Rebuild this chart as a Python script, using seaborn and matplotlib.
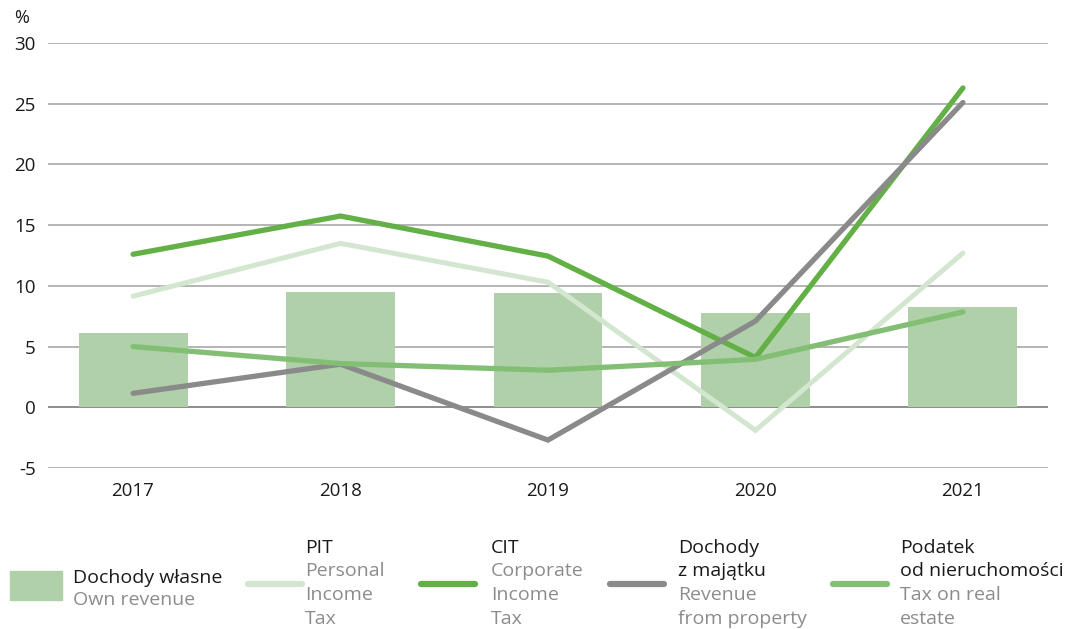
import numpy as np
import pandas as pd
import seaborn as sns
import matplotlib.pyplot as plt
from matplotlib.patches import Rectangle
from matplotlib.lines import Line2D

# data
years = ["2017", "2018", "2019", "2020", "2021"]
own_revenue = [6.1, 9.5, 9.4, 7.75, 8.3]
pit = [9.15, 13.5, 10.3, -1.9, 12.7]
cit = [12.6, 15.75, 12.45, 4.1, 26.3]
property_rev = [1.15, 3.55, -2.7, 7.1, 25.1]
real_estate = [5.0, 3.6, 3.05, 3.95, 7.85]

yticks = [-5, 0, 5, 10, 15, 20, 25, 30]

c_bar = "#afd0a9"
c_pit = "#d3e6d0"
c_cit = "#62b046"
c_prop = "#8a8a8a"
c_re = "#82bf74"
c_sub = "#8c8c8c"

sns.set_theme(style="white")
plt.rcParams["font.family"] = ["Open Sans", "DejaVu Sans"]

fig = plt.figure(figsize=(10.65, 6.29), dpi=100)
ax = fig.add_axes([48 / 1065, 1 - 468 / 629, 1000 / 1065, 425 / 629])

df = pd.DataFrame({"year": years, "own": own_revenue})
sns.barplot(data=df, x="year", y="own", color=c_bar, saturation=1,
            width=0.525, linewidth=0, ax=ax, zorder=2)

pos = np.arange(len(years))
series = [
    (pit, c_pit, 3.6),
    (cit, c_cit, 3.8),
    (property_rev, c_prop, 3.8),
    (real_estate, c_re, 3.8),
]
for vals, col, lw in series:
    sns.lineplot(x=pos, y=vals, color=col, linewidth=lw, ax=ax, zorder=3,
                 solid_capstyle="round", solid_joinstyle="miter")

ax.set_ylim(-5, 30)
ax.set_xlim(-0.41, 4.41)
ax.set_yticks(yticks)
ax.set_yticklabels([str(t) for t in yticks])
for t in yticks:
    ax.axhline(t, color="#a0a0a0" if t != 0 else "#6e6e6e", linewidth=1.1, zorder=1)
ax.set_xlabel("")
ax.set_ylabel("")
for s in ax.spines.values():
    s.set_visible(False)
ax.tick_params(axis="both", length=0, labelsize=13.5, colors="#1a1a1a")
ax.tick_params(axis="x", pad=10)
ax.tick_params(axis="y", pad=9)

fig.text(14 / 1065, 1 - 18 / 629, "%", fontsize=13, color="#1a1a1a",
         ha="left", va="center")

# legend built by hand
def fx(px):
    return px / 1065

def fy(px):
    return 1 - px / 629

fig.add_artist(Rectangle((fx(10), fy(600)), fx(52), 29 / 629,
                         color=c_bar, transform=fig.transFigure))
fig.text(fx(73), fy(578), "Dochody własne", fontsize=14, color="#1a1a1a", va="center")
fig.text(fx(73), fy(600), "Own revenue", fontsize=14, color=c_sub, va="center")

entries = [
    (248, 305, c_pit, ["PIT"], ["Personal", "Income", "Tax"]),
    (421, 491, c_cit, ["CIT"], ["Corporate", "Income", "Tax"]),
    (610, 678, c_prop, ["Dochody", "z majątku"], ["Revenue", "from property"]),
    (833, 900, c_re, ["Podatek", "od nieruchomości"], ["Tax on real", "estate"]),
]
row_y = [548, 571, 595, 619]
for lx, tx, col, title, sub in entries:
    fig.add_artist(Line2D([fx(lx), fx(lx + 54)], [fy(584), fy(584)],
                          color=col, linewidth=4.5, solid_capstyle="round",
                          transform=fig.transFigure))
    for i, line in enumerate(title + sub):
        fig.text(fx(tx), fy(row_y[i]), line, fontsize=14,
                 color="#1a1a1a" if i < len(title) else c_sub, va="center")

fig.savefig("out.png", dpi=100)
